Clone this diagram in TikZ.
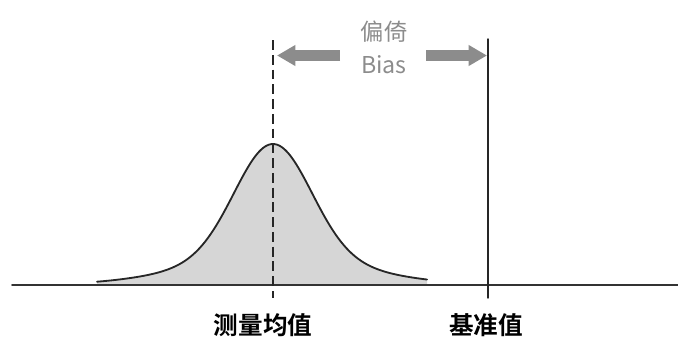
\documentclass[tikz,border=0pt]{standalone}
\usepackage{fontspec}
\setmainfont{Noto Sans CJK SC}[BoldFont={Noto Sans CJK SC Bold}]
\usetikzlibrary{arrows.meta}
\definecolor{biasgray}{HTML}{8C8C8C}
\definecolor{areagray}{HTML}{D6D6D6}
\tikzset{
  axisline/.style={line width=1.4pt, color=black!80},
  refline/.style={line width=1pt, color=black!85},
  biasarrow/.style={line width=7.8pt, color=biasgray, line cap=butt, -{Triangle[length=13pt, width=14pt]}},
  biastxt/.style={text=biasgray, font=\fontsize{16.5}{18}\selectfont},
  lbl/.style={font=\fontsize{17.5}{20}\selectfont\bfseries}
}
\begin{document}
\begin{tikzpicture}[x=0.025cm, y=-0.025cm, line join=round, line cap=round]
  \useasboundingbox (0,0) rectangle (678,338);
  \def\xm{273} \def\xr{488} \def\yb{285}
  % distribution
  \fill[areagray] (97,\yb) -- plot[smooth, samples=160, domain=97:427]
    (\x,{\yb-141*(0.8*exp(-((\x-\xm)/38)^2/2)+0.2*exp(-((\x-\xm)/85)^2/2))}) -- (427,\yb) -- cycle;
  \draw[line width=1.3pt, black!85] plot[smooth, samples=160, domain=97:427]
    (\x,{\yb-141*(0.8*exp(-((\x-\xm)/38)^2/2)+0.2*exp(-((\x-\xm)/85)^2/2))});
  % axis and vertical lines
  \coordinate (base-l) at (12,\yb);
  \coordinate (base-r) at (678,\yb);
  \coordinate (mean-top) at (\xm,40);
  \coordinate (mean-bot) at (\xm,298);
  \coordinate (ref-top) at (\xr,39);
  \coordinate (ref-bot) at (\xr,298);
  \draw[axisline] (base-l) -- (base-r);
  \draw[refline, line cap=butt, dash pattern=on 7pt off 3.5pt] (mean-top) -- (mean-bot);
  \draw[refline] (ref-top) -- (ref-bot);
  % bias
  \node[biastxt] (bias-cn) at (384,32) {偏倚};
  \node[biastxt] (bias-en) at (384,65) {Bias};
  \coordinate (arr-l) at (340,55.5);
  \coordinate (arr-r) at (426,55.5);
  \draw[biasarrow] (arr-l) -- (\xm+4,55.5);
  \draw[biasarrow] (arr-r) -- (\xr-1,55.5);
  % labels
  \node[lbl] (mean-lbl) at (263,325) {测量均值};
  \node[lbl] (ref-lbl) at (486,325) {基准值};
\end{tikzpicture}
\end{document}
